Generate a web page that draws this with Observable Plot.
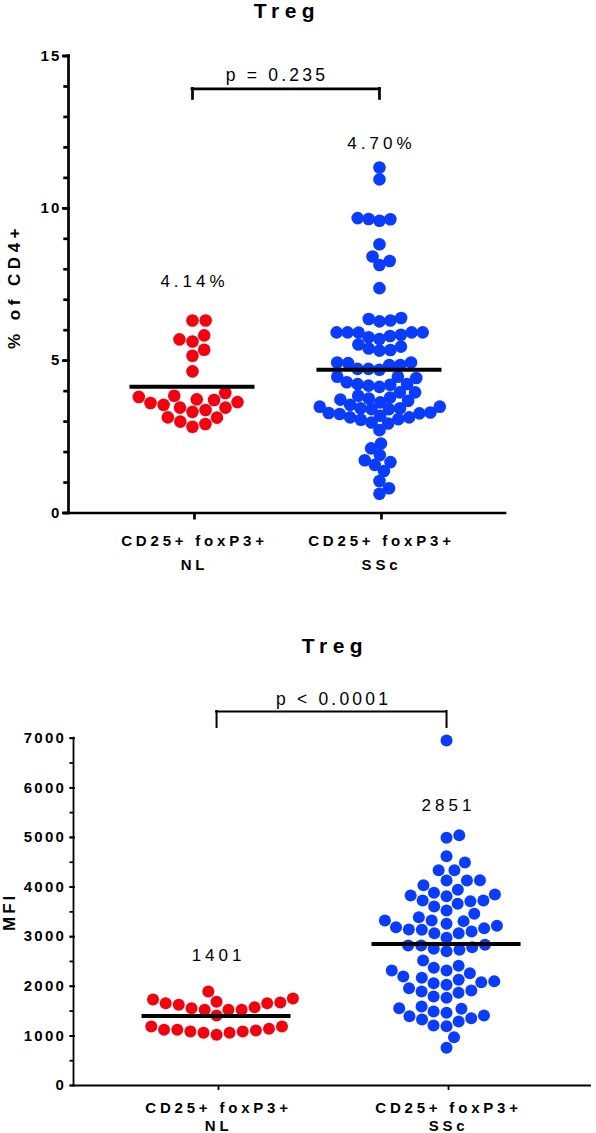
<!DOCTYPE html>
<html>
<head>
<meta charset="utf-8">
<script src="https://cdn.jsdelivr.net/npm/d3@7"></script>
<script src="https://cdn.jsdelivr.net/npm/@observablehq/plot@0.6"></script>
<style>
  html, body { margin: 0; padding: 0; background: #fff; }
  #page { position: relative; width: 596px; height: 1133px; overflow: hidden; background: #fff; }
  #chartTop { position: absolute; left: 0; top: 0; }
  #chartBottom { position: absolute; left: 0; top: 580px; }
  svg text { font-family: "Liberation Sans", Arial, sans-serif; }
  g[aria-label="y-axis tick label"] text { letter-spacing: 2.2px; }
  g[aria-label="x-axis tick label"] text { letter-spacing: 3.8px; }
</style>
</head>
<body>
<div id="page"><div id="chartTop"></div><div id="chartBottom"></div></div>
<script>
// ---------- data ----------
const groups = ["NL", "SSc"];
const xLabels = ["CD25+ foxP3+\nNL", "CD25+ foxP3+\nSSc"];
const groupColors = ["#f5000f", "#0a3cff"];

// Treg % of CD4+
const pctNL = [6.32, 6.32, 5.83, 5.63, 5.70, 5.36, 5.16, 4.65, 3.94, 3.85, 3.81, 3.71, 3.61,
  3.46, 3.46, 3.55, 3.64, 3.73, 3.38, 3.32, 3.14, 3.00, 2.83, 2.92, 3.13];
const pctSSc = [11.34, 10.95, 9.64, 9.59, 9.65, 9.68, 8.82, 8.42, 8.14, 8.27, 7.38,
  6.40, 6.32, 6.37, 6.29,
  5.81, 5.71, 5.93, 5.93, 5.92, 5.93, 5.93, 5.77, 5.85,
  5.46, 5.35, 5.33, 5.40, 5.53,
  4.94, 4.86, 4.70, 4.73, 4.73, 4.86, 4.92, 4.94,
  4.43, 4.23, 4.21, 4.47, 4.14, 4.47, 3.96, 4.18, 4.23, 4.29,
  3.96, 3.79, 3.72, 3.63, 3.49, 3.44, 3.41, 3.41, 3.44, 3.49, 3.55, 3.68, 3.76, 3.85,
  3.30, 3.27, 3.19, 3.14, 3.06, 2.94, 2.72, 2.97, 3.08, 3.14, 3.25, 3.28,
  2.12, 2.28, 1.73, 1.58, 1.38, 1.67, 1.90, 1.05, 0.63, 0.81];
const pctMeans = [4.14, 4.70];
const pctMeanLabels = ["4.14%", "4.70%"];
const pctTicks = [0, 5, 10, 15];
const pctMinorTicks = [0, 1, 2, 3, 4, 5, 6, 7, 8, 9, 10, 11, 12, 13, 14, 15];
const pctP = "p = 0.235";

// Treg MFI
const mfiNL = [1895, 1734, 1673, 1659, 1579, 1526, 1526, 1411, 1526, 1559, 1626, 1659, 1687, 1754,
  1189, 1142, 1122, 1088, 1062, 1021, 1062, 1088, 1109, 1122, 1189];
const mfiSSc = [6954, 4993, 5046, 4622, 4340, 4340, 4495, 4132, 4038, 4132, 4138,
  3830, 3729, 3729, 3884, 3945, 3816, 3850, 3608, 3527, 3662, 3715,
  3393, 3326, 3259, 3191, 3145, 3104, 3138, 3171, 3219, 3313, 3326, 3462,
  3070, 2977, 3070, 2822, 2822, 2755, 2735, 2788, 2707, 2835, 2520, 2372, 2413,
  2318, 2197, 2130, 2083, 2030, 1962, 2063, 2103, 2171, 2264, 2318,
  1895, 1794, 1767, 1868, 1915, 1592,
  1546, 1465, 1398, 1330, 1209, 1196, 1290, 1357, 1411, 1492, 1559, 974, 760];
const mfiMeans = [1401, 2851];
const mfiMeanLabels = ["1401", "2851"];
const mfiTicks = [0, 1000, 2000, 3000, 4000, 5000, 6000, 7000];
const mfiMinorTicks = [0, 500, 1000, 1500, 2000, 2500, 3000, 3500, 4000, 4500, 5000, 5500, 6000, 6500, 7000];
const mfiP = "p < 0.0001";

// ---------- beeswarm layout (pixel offsets, greedy, ascending) ----------
function swarm(values, pxPerUnit, d) {
  const order = d3.range(values.length).sort((a, b) => values[a] - values[b]);
  const placed = [];
  const off = new Array(values.length);
  for (const i of order) {
    const y = values[i] * pxPerUnit;
    const near = placed.filter(p => Math.abs(p.y - y) < d);
    const cands = [0];
    for (const p of near) {
      const h = Math.sqrt(Math.max(0, d * d - (p.y - y) ** 2));
      cands.push(p.x + h, p.x - h);
    }
    const bal = d3.sum(near, p => p.x);
    cands.sort((a, b) => Math.abs(a) - Math.abs(b) || (bal > 0 ? a - b : b - a));
    const x = cands.find(c => near.every(p => (p.x - c) ** 2 + (p.y - y) ** 2 >= d * d - 1e-6));
    placed.push({x, y});
    off[i] = x;
  }
  return off;
}

function makeChart(cfg) {
  const pxPerUnit = (cfg.height - cfg.mT - cfg.mB) / (cfg.yDomain[1] - cfg.yDomain[0]);
  const pxPerX = (cfg.width - cfg.mL - cfg.mR) / (cfg.xDomain[1] - cfg.xDomain[0]);
  const rows = [];
  cfg.series.forEach((vals, gi) => {
    const off = swarm(vals, pxPerUnit, cfg.collide[gi]);
    vals.forEach((v, j) => rows.push({g: groups[gi], v, x: gi + off[j] / pxPerX}));
  });
  const means = cfg.means.map((m, i) => ({i, m, label: cfg.meanLabels[i], ly: cfg.labelLevels[i]}));
  const cmp = [{from: 0, to: 1, level: cfg.bracketLevel, leg: cfg.bracketLeg, p: cfg.p}];
  const half = cfg.meanHalfPx / pxPerX;
  const svg = Plot.plot({
    width: cfg.width,
    height: cfg.height,
    marginTop: cfg.mT, marginBottom: cfg.mB, marginLeft: cfg.mL, marginRight: cfg.mR,
    style: {background: "white", overflow: "visible", fontFamily: "Liberation Sans, Arial, sans-serif", color: "black"},
    x: {type: "linear", domain: cfg.xDomain},
    y: {domain: cfg.yDomain},
    color: {domain: groups, range: groupColors},
    marks: [
      Plot.axisY({ticks: cfg.minorTicks, tickSize: cfg.minorTickSize, tickFormat: () => "", strokeWidth: cfg.axisW, label: null}),
      Plot.axisY({ticks: cfg.ticks, tickSize: cfg.majorTickSize, tickPadding: cfg.tickPad, tickFormat: d => String(d), fontSize: 15, fontWeight: "bold", strokeWidth: cfg.axisW, label: null, dx: 2}),
      Plot.axisX({ticks: [0, 1], tickFormat: i => xLabels[i], tickSize: cfg.xTickSize, tickPadding: cfg.xTickPad, fontSize: 15, fontWeight: "bold", lineHeight: cfg.xLineHeight, strokeWidth: cfg.axisW, label: null, dx: 2}),
      Plot.ruleY([cfg.yDomain[0]], {strokeWidth: cfg.axisW, strokeLinecap: "square"}),
      Plot.ruleX([cfg.xDomain[0]], {strokeWidth: cfg.axisW, strokeLinecap: "square"}),
      Plot.dot(rows, {x: "x", y: "v", r: cfg.r, fill: "g", stroke: null}),
      Plot.ruleY(means, {y: "m", x1: d => d.i - half, x2: d => d.i + half, strokeWidth: 4}),
      // text marks (order matters for letter-spacing below)
      Plot.text(means, {x: "i", y: "ly", text: "label", lineAnchor: "bottom", fontSize: 17, dx: 2}),
      Plot.ruleY(cmp, {y: "level", x1: "from", x2: "to", strokeWidth: cfg.bracketW, strokeLinecap: "square"}),
      Plot.ruleX(cmp, {x: "from", y1: "level", y2: d => d.level - d.leg, strokeWidth: cfg.bracketW, strokeLinecap: "square"}),
      Plot.ruleX(cmp, {x: "to", y1: "level", y2: d => d.level - d.leg, strokeWidth: cfg.bracketW, strokeLinecap: "square"}),
      Plot.text(cmp, {x: d => (d.from + d.to) / 2, y: "level", text: "p", lineAnchor: "bottom", dy: cfg.pDy, dx: cfg.pDx, fontSize: 17.5}),
      Plot.text(["Treg"], {frameAnchor: "top", text: d => d, lineAnchor: "bottom", dy: cfg.titleDy, fontSize: 21, fontWeight: "bold", dx: cfg.titleDx}),
      Plot.text([cfg.yTitle], {frameAnchor: "left", text: d => d, rotate: -90, dx: cfg.yTitleDx, dy: cfg.yTitleDy, textAnchor: "middle", lineAnchor: "middle", fontSize: 17, fontWeight: "bold"})
    ]
  });
  // letter-spacing of the text marks, in mark order: mean labels, p value, title, y title
  const spacing = ["4px", "3.2px", "5.5px", cfg.yTitleSpacing];
  d3.select(svg).selectAll('g[aria-label="text"]').each(function(_, k) {
    d3.select(this).selectAll("text").style("letter-spacing", spacing[k]);
  });
  return svg;
}

const chartTop = makeChart({
  width: 596, height: 575, mT: 55.5, mB: 62.5, mL: 68, mR: 91,
  xDomain: [-0.663, 1.674], yDomain: [0, 15],
  series: [pctNL, pctSSc], r: 6.3, collide: [13.2, 11],
  means: pctMeans, meanLabels: pctMeanLabels, labelLevels: [7.43, 11.96], meanHalfPx: 62.5,
  ticks: pctTicks, minorTicks: pctMinorTicks, majorTickSize: 8, minorTickSize: 4.7, tickPad: 1,
  xTickSize: 7, xTickPad: 9, xLineHeight: 1.6, axisW: 2.7,
  bracketLevel: 13.92, bracketLeg: 0.33, bracketW: 2.7, p: pctP, pDy: -8, pDx: -9,
  titleDy: -38.5, titleDx: 0, yTitle: "% of CD4+", yTitleDx: -54, yTitleDy: 2, yTitleSpacing: "4.5px"
});
document.getElementById("chartTop").appendChild(chartTop);

const chartBottom = makeChart({
  width: 596, height: 553, mT: 157.7, mB: 48, mL: 73, mR: 6,
  xDomain: [-0.622, 1.626], yDomain: [0, 7000],
  series: [mfiNL, mfiSSc], r: 6.0, collide: [13.2, 13],
  means: mfiMeans, meanLabels: mfiMeanLabels, labelLevels: [2505, 5529], meanHalfPx: 74.5,
  ticks: mfiTicks, minorTicks: mfiMinorTicks, majorTickSize: 5.5, minorTickSize: 3.5, tickPad: 4,
  xTickSize: 5, xTickPad: 10, xLineHeight: 1.2, axisW: 1.8,
  bracketLevel: 7539, bracketLeg: 322, bracketW: 2, p: mfiP, pDy: -6, pDx: 2,
  titleDy: -85, titleDx: 3, yTitle: "MFI", yTitleDx: -64, yTitleDy: 0, yTitleSpacing: "3px"
});
document.getElementById("chartBottom").appendChild(chartBottom);
</script>
</body>
</html>
